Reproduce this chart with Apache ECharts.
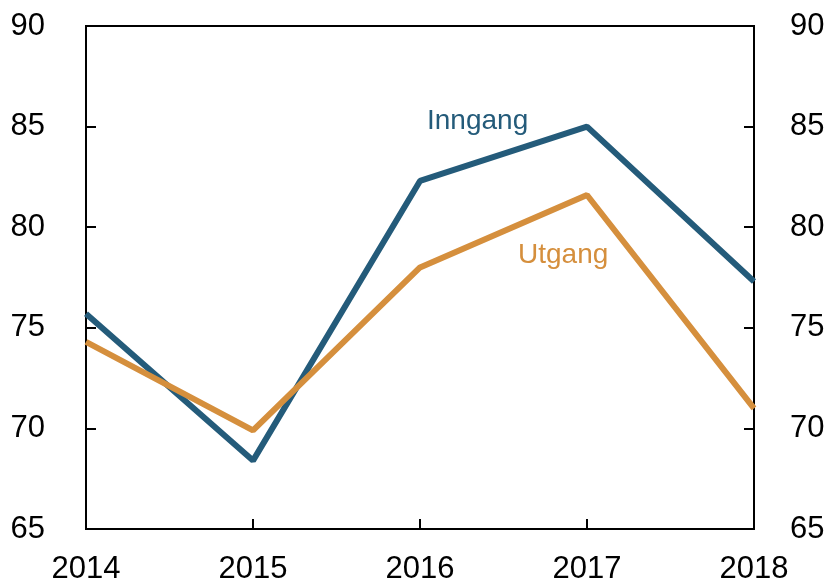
<!DOCTYPE html>
<html>
<head>
<meta charset="utf-8">
<script src="https://cdn.jsdelivr.net/npm/echarts@6/dist/echarts.min.js"></script>
<style>
  html, body { margin: 0; padding: 0; background: #fff; }
  #chart { width: 833px; height: 585px; }
</style>
</head>
<body>
<div id="chart"></div>
<script>
// data
var years = ['2014', '2015', '2016', '2017', '2018'];
var inngang = [75.7, 68.4, 82.3, 85.0, 77.3];
var utgang = [74.3, 69.9, 78.0, 81.6, 71.0];

(function() {
  var myChart = echarts.init(document.getElementById('chart'));

  var font = 'Liberation Sans, Arial, sans-serif';
  var yAxisBase = {
    type: 'value',
    min: 65,
    max: 90,
    interval: 5,
    splitLine: { show: false },
    axisLine: { show: true, lineStyle: { color: '#000', width: 2 } },
    axisTick: { show: true, inside: true, length: 10, lineStyle: { color: '#000', width: 2 } },
    axisLabel: { color: '#000', fontSize: 31, fontFamily: font, margin: 41 }
  };

  var option = {
    animation: false,
    grid: { left: 86, right: 79, top: 26, bottom: 54, show: true, borderColor: '#000', borderWidth: 2 },
    xAxis: {
      type: 'category',
      data: years,
      boundaryGap: false,
      axisLine: { lineStyle: { color: '#000', width: 2 } },
      axisTick: { inside: true, length: 10, lineStyle: { color: '#000', width: 2 } },
      axisLabel: { color: '#000', fontSize: 31, fontFamily: font, margin: 25 }
    },
    yAxis: [
      Object.assign({}, yAxisBase, { position: 'left', axisLabel: Object.assign({}, yAxisBase.axisLabel, { margin: 41 }) }),
      Object.assign({}, yAxisBase, { position: 'right', axisLabel: Object.assign({}, yAxisBase.axisLabel, { margin: 36 }) })
    ],
    graphic: [
      { type: 'text', left: 427, top: 107, style: { text: 'Inngang', fill: '#245b7a', fontSize: 28, fontFamily: font } },
      { type: 'text', left: 518, top: 241, style: { text: 'Utgang', fill: '#d58f3d', fontSize: 28, fontFamily: font } }
    ],
    series: [
      {
        name: 'Inngang',
        type: 'line',
        data: inngang,
        symbol: 'none',
        lineStyle: { color: '#245b7a', width: 6 },
        itemStyle: { color: '#245b7a' }
      },
      {
        name: 'Utgang',
        type: 'line',
        data: utgang,
        symbol: 'none',
        lineStyle: { color: '#d58f3d', width: 6 },
        itemStyle: { color: '#d58f3d' }
      }
    ]
  };

  myChart.setOption(option);
})();
</script>
</body>
</html>
